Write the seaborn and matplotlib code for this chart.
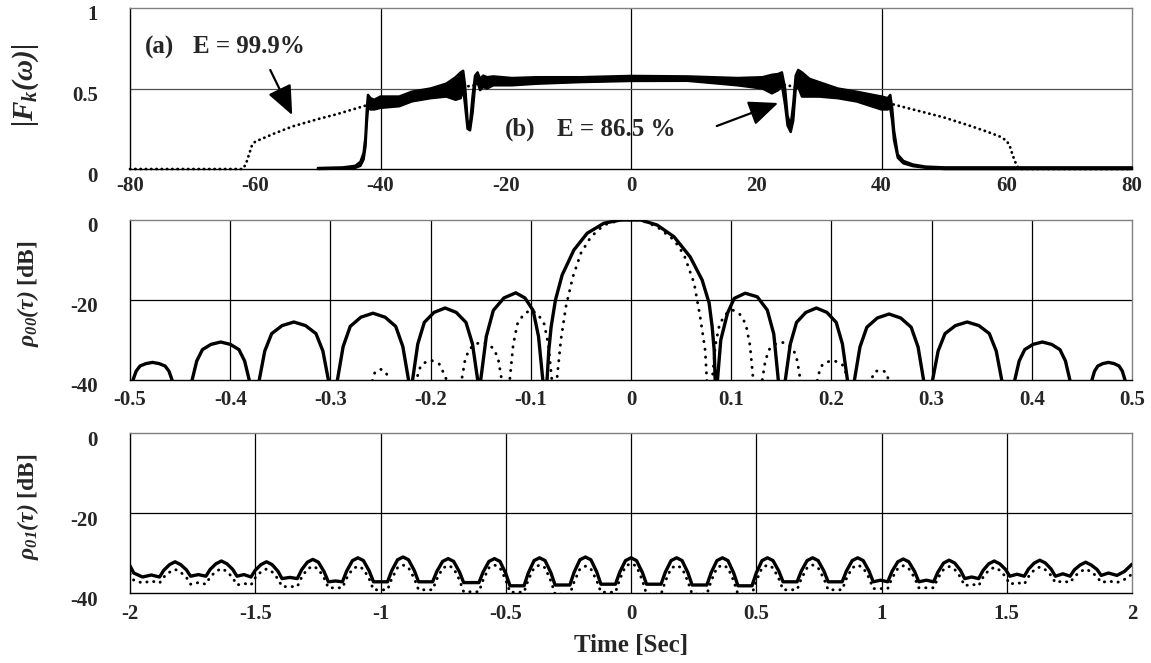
import matplotlib
matplotlib.use("Agg")
import numpy as np
import pandas as pd
import seaborn as sns
import matplotlib.pyplot as plt
from matplotlib.transforms import ScaledTranslation

# ---------------- Panel 1: |F_k(w)| ----------------
fk_xticks = [-80, -60, -40, -20, 0, 20, 40, 60, 80]
fk_xticklabels = ["-80", "-60", "-40", "-20", "0", "20", "40", "60", "80"]
fk_yticks = [0, 0.5, 1]
fk_yticklabels = ["0", "0.5", "1"]
fk_vgrid = [-40, 0, 40]
fk_hgrid = [0.5]

# (a) E = 99.9 %  (dotted)
fk_a_x = [-80, -62, -61.5, -61, -60.5, -60, -57, -54, -50, -47, -44, -41, -35, -30, -25,
          -20, -10, 0, 10, 20, 25, 30, 35, 41, 44, 47, 50, 54, 57, 59, 60, 60.5, 61, 61.5, 62, 80]
fk_a_y = [0, 0, 0.03, 0.09, 0.15, 0.17, 0.22, 0.265, 0.31, 0.34, 0.375, 0.41, 0.45, 0.49, 0.52,
          0.54, 0.555, 0.56, 0.555, 0.54, 0.52, 0.47, 0.44, 0.41, 0.38, 0.35, 0.32, 0.27, 0.23, 0.2,
          0.175, 0.14, 0.08, 0.03, 0, 0]

# (b) E = 86.5 %  (solid, oscillating band: lower / upper envelope)
fk_b_x = [-50.0, -46.0, -44.0, -43.2, -42.7, -42.4, -42.2, -42.0, -41.6, -41.0, -40.0, -37.0,
          -35.0, -32.0, -29.5, -28.0, -27.2, -26.8, -26.5, -26.1, -25.7, -25.3, -24.9, -24.5,
          -24.1, -23.6, -23.0, -22.0, -19.0, -15.0, -8.0, 0.0, 9.0, 17.0, 21.0, 22.5, 23.5,
          24.1, 24.6, 25.0, 25.5, 25.9, 26.3, 26.7, 27.3, 28.5, 30.0, 33.0, 36.0, 40.0, 41.0,
          41.4, 41.7, 42.0, 42.6, 43.5, 45.0, 47.0, 50.0, 80.0]
fk_b_lo = [0.000, 0.003, 0.008, 0.020, 0.060, 0.140, 0.280, 0.380, 0.370, 0.370, 0.380, 0.390,
           0.420, 0.440, 0.450, 0.430, 0.440, 0.500, 0.400, 0.250, 0.240, 0.350, 0.520, 0.540,
           0.490, 0.510, 0.500, 0.520, 0.520, 0.530, 0.540, 0.547, 0.548, 0.520, 0.500, 0.470,
           0.490, 0.520, 0.400, 0.270, 0.230, 0.300, 0.500, 0.510, 0.450, 0.450, 0.450, 0.440,
           0.420, 0.370, 0.370, 0.380, 0.300, 0.180, 0.070, 0.035, 0.018, 0.008, 0.000, 0.000]
fk_b_hi = [0.006, 0.010, 0.020, 0.045, 0.100, 0.200, 0.360, 0.460, 0.440, 0.430, 0.450, 0.450,
           0.480, 0.500, 0.530, 0.570, 0.600, 0.610, 0.520, 0.300, 0.280, 0.450, 0.580, 0.600,
           0.560, 0.580, 0.570, 0.575, 0.565, 0.570, 0.570, 0.578, 0.575, 0.565, 0.570, 0.585,
           0.590, 0.600, 0.500, 0.330, 0.270, 0.400, 0.580, 0.615, 0.600, 0.560, 0.540, 0.500,
           0.480, 0.450, 0.440, 0.460, 0.380, 0.240, 0.090, 0.050, 0.028, 0.015, 0.010, 0.010]

# ---------------- Panel 2: rho_00(tau) [dB] ----------------
r00_xticks = [-0.5, -0.4, -0.3, -0.2, -0.1, 0, 0.1, 0.2, 0.3, 0.4, 0.5]
r00_xticklabels = ["-0.5", "-0.4", "-0.3", "-0.2", "-0.1", "0", "0.1", "0.2", "0.3", "0.4", "0.5"]
db_yticks = [-40, -20, 0]
db_yticklabels = ["-40", "-20", "0"]
db_hgrid = [-20]

r00_solid_tau = [
    -0.5,
    -0.497, -0.4939, -0.4900, -0.4841, -0.4775, -0.4709, -0.4650, -0.4611, -0.458,
    -0.448,
    -0.438, -0.4334, -0.4277, -0.4192, -0.4095, -0.3998, -0.3913, -0.3856, -0.381,
    -0.376,
    -0.371, -0.3655, -0.3586, -0.3482, -0.3365, -0.3248, -0.3144, -0.3075, -0.302,
    -0.2975,
    -0.293, -0.2873, -0.2802, -0.2696, -0.2575, -0.2454, -0.2348, -0.2277, -0.222,
    -0.220,
    -0.218, -0.2128, -0.2063, -0.1966, -0.1855, -0.1744, -0.1647, -0.1582, -0.153,
    -0.1515,
    -0.150, -0.1444, -0.1374, -0.1269, -0.115, -0.1058, -0.0977, -0.0923, -0.088,
    -0.086,
    -0.0838, -0.082, -0.0797, -0.0754, -0.0687, -0.057, -0.0437, -0.027, -0.0104,
    0.0096, 0.026, 0.043, 0.059, 0.071, 0.078, 0.081, 0.083, 0.084,
    0.085,
    0.0863, 0.0896, 0.0963, 0.103, 0.114, 0.126, 0.136, 0.1425, 0.147,
    0.1505,
    0.154, 0.159, 0.1652, 0.1745, 0.185, 0.1955, 0.2048, 0.211, 0.216,
    0.2195,
    0.223, 0.2285, 0.2354, 0.2458, 0.2575, 0.2692, 0.2796, 0.2865, 0.292,
    0.2965,
    0.301, 0.3065, 0.3134, 0.3238, 0.3355, 0.3472, 0.3576, 0.3645, 0.370,
    0.3765,
    0.383, 0.3874, 0.3929, 0.4012, 0.4105, 0.4198, 0.4281, 0.4336, 0.438,
    0.449,
    0.460, 0.4626, 0.4659, 0.4709, 0.4765, 0.4821, 0.4871, 0.4904, 0.493,
    0.5]
r00_solid_db = [
    -46,
    -40, -37.8, -36.5, -35.9, -35.6, -35.9, -36.5, -37.8, -40,
    -60,
    -40, -35.25, -32.4, -31.1, -30.5, -31.1, -32.4, -35.25, -40,
    -60,
    -40, -32.75, -28.4, -26.4, -25.5, -26.4, -28.4, -32.75, -40,
    -60,
    -40, -31.65, -26.6, -24.3, -23.3, -24.3, -26.6, -31.65, -40,
    -60,
    -40, -31.0, -25.6, -23.1, -22.0, -23.1, -25.6, -31.0, -40,
    -60,
    -40, -29.1, -22.6, -19.5, -18.2, -19.5, -22.6, -29.1, -40,
    -60,
    -40, -32.5, -26.7, -20.0, -13.75, -7.5, -3.3, -0.8, 0.0,
    0.0, -1.25, -4.2, -9.2, -15.0, -20.8, -26.7, -32.5, -40,
    -60,
    -40, -30.0, -23.3, -19.6, -18.3, -19.2, -22.5, -28.5, -40,
    -60,
    -40, -31.0, -25.6, -23.1, -22.0, -23.1, -25.6, -31.0, -40,
    -60,
    -40, -31.75, -26.8, -24.5, -23.5, -24.5, -26.8, -31.75, -40,
    -60,
    -40, -32.75, -28.4, -26.4, -25.5, -26.4, -28.4, -32.75, -40,
    -60,
    -40, -35.25, -32.4, -31.1, -30.5, -31.1, -32.4, -35.25, -40,
    -60,
    -40, -37.8, -36.5, -35.9, -35.6, -35.9, -36.5, -37.8, -40,
    -50]

r00_dot_tau = [
    -0.5, -0.265,
    -0.258, -0.2555, -0.25, -0.2445, -0.242,
    -0.228,
    -0.214, -0.2116, -0.2086, -0.2, -0.1914, -0.1884, -0.184,
    -0.1765,
    -0.169, -0.1658, -0.1618, -0.1558, -0.149, -0.1422, -0.1362, -0.1322, -0.129,
    -0.125,
    -0.121, -0.1176, -0.1134, -0.1071, -0.100, -0.0929, -0.0866, -0.0824, -0.079,
    -0.0765,
    -0.074, -0.070, -0.065, -0.058, -0.050, -0.040, -0.027, -0.0104,
    0.0096, 0.026, 0.043, 0.053, 0.063, 0.069, 0.074, 0.0757,
    0.078,
    0.081, 0.0843, 0.0884, 0.0945, 0.1015, 0.1085, 0.1146, 0.1187, 0.122,
    0.1265,
    0.131, 0.134, 0.1378, 0.1435, 0.150, 0.1565, 0.1622, 0.166, 0.169,
    0.1775,
    0.186, 0.1884, 0.1914, 0.201, 0.2106, 0.2136, 0.216,
    0.228,
    0.240, 0.2425, 0.2485, 0.2545, 0.257,
    0.265, 0.5]
r00_dot_db = [
    -60, -60,
    -40, -38.0, -37.3, -38.0, -40,
    -60,
    -40, -37.5, -36.0, -35.0, -36.0, -37.5, -40,
    -60,
    -40, -35.25, -32.4, -31.1, -30.5, -31.1, -32.4, -35.25, -40,
    -60,
    -40, -31.25, -26.0, -23.55, -22.5, -23.55, -26.0, -31.25, -40,
    -60,
    -40, -30.0, -21.7, -14.2, -8.3, -4.2, -1.25, 0.0,
    0.0, -1.7, -5.0, -8.75, -15.8, -24.2, -32.5, -40,
    -60,
    -40, -31.25, -26.0, -23.55, -22.5, -23.55, -26.0, -31.25, -40,
    -60,
    -40, -35.25, -32.4, -31.1, -30.5, -31.1, -32.4, -35.25, -40,
    -60,
    -40, -37.5, -36.0, -35.0, -36.0, -37.5, -40,
    -60,
    -40, -38.0, -37.5, -38.0, -40,
    -60, -60]

# ---------------- Panel 3: rho_01(tau) [dB] ----------------
r01_xticks = [-2, -1.5, -1, -0.5, 0, 0.5, 1, 1.5, 2]
r01_xticklabels = ["-2", "-1.5", "-1", "-0.5", "0", "0.5", "1", "1.5", "2"]

r01_solid_tau = [
    -2.000, -1.985, -1.950, -1.915, -1.882,
    -1.865, -1.842, -1.820, -1.798, -1.775, -1.758, -1.727, -1.697,
    -1.680, -1.657, -1.635, -1.613, -1.590, -1.573, -1.545, -1.517,
    -1.500, -1.477, -1.455, -1.433, -1.410, -1.393, -1.362, -1.332,
    -1.315, -1.292, -1.270, -1.248, -1.225, -1.208, -1.180, -1.152,
    -1.135, -1.112, -1.090, -1.068, -1.045, -1.028, -1.000, -0.972,
    -0.955, -0.932, -0.910, -0.888, -0.865, -0.848, -0.820, -0.792,
    -0.775, -0.752, -0.730, -0.708, -0.685, -0.668, -0.637, -0.607,
    -0.590, -0.567, -0.545, -0.523, -0.500, -0.483, -0.455, -0.427,
    -0.410, -0.387, -0.365, -0.343, -0.320, -0.303, -0.273, -0.244,
    -0.227, -0.204, -0.182, -0.160, -0.137, -0.120, -0.091, -0.062,
    -0.045, -0.022, 0.000, 0.022, 0.045, 0.062, 0.091, 0.120,
    0.137, 0.160, 0.182, 0.204, 0.227, 0.244, 0.274, 0.303,
    0.320, 0.343, 0.365, 0.387, 0.410, 0.427, 0.455, 0.483,
    0.500, 0.523, 0.545, 0.567, 0.590, 0.607, 0.635, 0.663,
    0.680, 0.703, 0.725, 0.747, 0.770, 0.787, 0.815, 0.843,
    0.860, 0.883, 0.905, 0.927, 0.950, 0.967, 0.996, 1.025,
    1.042, 1.065, 1.087, 1.109, 1.132, 1.149, 1.179, 1.208,
    1.225, 1.248, 1.270, 1.292, 1.315, 1.332, 1.360, 1.388,
    1.405, 1.428, 1.450, 1.472, 1.495, 1.512, 1.541, 1.570,
    1.587, 1.610, 1.632, 1.654, 1.677, 1.694, 1.724, 1.753,
    1.770, 1.793, 1.815, 1.837, 1.860, 1.877, 1.906, 1.940,
    1.970, 2.000]
r01_solid_db = [
    -33.2, -35.0, -36.0, -35.5, -36.0,
    -34.3, -32.9, -32.2, -32.9, -34.2, -35.8, -35.4, -35.8,
    -34.1, -32.7, -32.0, -32.7, -34.1, -35.8, -35.4, -36.0,
    -34.3, -32.9, -32.2, -32.9, -34.5, -36.4, -36.1, -36.4,
    -34.2, -32.3, -31.6, -32.3, -34.7, -37.2, -37.0, -37.2,
    -34.5, -31.9, -31.2, -31.9, -34.5, -37.2, -37.2, -37.2,
    -34.4, -31.7, -31.0, -31.7, -34.4, -37.2, -37.2, -37.2,
    -34.6, -32.1, -31.4, -32.1, -34.7, -37.4, -37.4, -37.4,
    -34.7, -32.1, -31.4, -32.1, -35.1, -38.2, -38.2, -38.2,
    -35.0, -31.9, -31.2, -31.9, -34.9, -38.0, -38.0, -38.0,
    -34.8, -31.7, -31.0, -31.7, -34.7, -37.8, -37.8, -37.8,
    -34.8, -31.9, -31.2, -31.9, -34.8, -37.8, -37.8, -37.8,
    -34.8, -31.9, -31.2, -31.9, -34.9, -38.0, -38.0, -38.0,
    -34.9, -31.9, -31.2, -31.9, -35.0, -38.2, -38.2, -38.2,
    -35.0, -31.9, -31.2, -31.9, -34.5, -37.2, -37.2, -37.2,
    -34.5, -31.9, -31.2, -31.9, -34.5, -37.2, -37.2, -37.2,
    -34.5, -31.9, -31.2, -31.9, -34.5, -37.2, -36.8, -37.2,
    -34.6, -32.2, -31.5, -32.2, -34.6, -37.2, -36.8, -37.2,
    -34.8, -32.5, -31.8, -32.5, -34.3, -36.4, -36.0, -36.4,
    -34.4, -32.7, -32.0, -32.7, -34.1, -35.8, -35.3, -35.8,
    -34.0, -32.5, -31.8, -32.5, -34.0, -35.8, -35.2, -35.8,
    -34.2, -33.0, -32.3, -33.0, -34.1, -35.6, -35.0, -35.6,
    -34.6, -32.8]

r01_dot_tau = list(r01_solid_tau)
r01_dot_db = [
    -35.2, -36.8, -37.5, -37.0, -37.5,
    -36.0, -34.8, -34.1, -34.8, -36.1, -37.8, -37.4, -37.8,
    -36.0, -34.6, -33.9, -34.6, -36.2, -38.0, -37.6, -38.0,
    -36.2, -34.7, -34.0, -34.7, -36.4, -38.4, -38.4, -38.4,
    -36.1, -34.0, -33.3, -34.0, -36.3, -38.7, -38.7, -38.7,
    -36.3, -34.0, -33.3, -34.0, -36.5, -39.2, -39.2, -39.2,
    -36.4, -33.7, -33.0, -33.7, -36.4, -39.2, -39.2, -39.2,
    -36.5, -33.8, -33.1, -33.8, -36.7, -39.7, -39.7, -39.7,
    -36.7, -33.7, -33.0, -33.7, -36.7, -39.8, -39.8, -39.8,
    -36.7, -33.7, -33.0, -33.7, -37.0, -40.3, -40.3, -40.3,
    -37.2, -34.0, -33.3, -34.0, -36.9, -39.8, -39.8, -39.8,
    -36.6, -33.3, -32.6, -33.3, -36.8, -40.3, -40.3, -40.3,
    -37.1, -33.8, -33.1, -33.8, -37.1, -40.3, -40.3, -40.3,
    -37.0, -33.7, -33.0, -33.7, -37.0, -40.3, -40.3, -40.3,
    -37.0, -33.7, -33.0, -33.7, -36.4, -39.2, -39.2, -39.2,
    -36.4, -33.7, -33.0, -33.7, -36.4, -39.2, -39.2, -39.2,
    -36.4, -33.7, -33.0, -33.7, -36.2, -38.9, -38.9, -38.9,
    -36.3, -33.9, -33.2, -33.9, -36.2, -38.7, -38.7, -38.7,
    -36.3, -34.1, -33.4, -34.1, -36.0, -38.2, -37.8, -38.2,
    -36.1, -34.3, -33.6, -34.3, -35.9, -37.8, -37.4, -37.8,
    -35.9, -34.2, -33.5, -34.2, -35.6, -37.4, -37.0, -37.4,
    -35.9, -34.7, -34.0, -34.7, -35.9, -37.4, -37.0, -37.4,
    -36.6, -35.3]

# ---------------- style ----------------
sns.set_theme(style="white")
plt.rcParams["font.family"] = ["Liberation Serif", "DejaVu Serif"]
plt.rcParams["font.weight"] = "bold"
plt.rcParams["axes.unicode_minus"] = False
plt.rcParams["mathtext.fontset"] = "custom"
plt.rcParams["mathtext.rm"] = "Liberation Serif:italic:bold"
plt.rcParams["mathtext.it"] = "Liberation Serif:italic:bold"
plt.rcParams["mathtext.bf"] = "Liberation Serif:italic:bold"

fig = plt.figure(figsize=(11.51, 6.63), dpi=100)
L, W = 130 / 1151, 1002 / 1151
ax1 = fig.add_axes([L, (663 - 169) / 663, W, 161 / 663])
ax2 = fig.add_axes([L, (663 - 380) / 663, W, 160 / 663])
ax3 = fig.add_axes([L, (663 - 593) / 663, W, 160 / 663])

GRID_KW = dict(color="black", lw=0.9, zorder=0.5)
TICK_FS = 15


def style_axes(ax, xpad):
    for s in ["left", "bottom"]:
        ax.spines[s].set_color("black")
        ax.spines[s].set_linewidth(1.0)
    for s in ["top", "right"]:
        ax.spines[s].set_color("#808080")
        ax.spines[s].set_linewidth(1.0)
    ax.tick_params(axis="both", length=0, labelsize=TICK_FS)
    ax.tick_params(axis="x", pad=xpad)
    ax.tick_params(axis="y", pad=23)
    for lab in ax.get_xticklabels() + ax.get_yticklabels():
        lab.set_fontweight("bold")


def shift_ylabels(ax, dy_px):
    off = ScaledTranslation(0, -dy_px / 100.0, fig.dpi_scale_trans)
    for lab in ax.get_yticklabels():
        lab.set_transform(lab.get_transform() + off)


# ---- Panel 1 ----
sns.lineplot(x=fk_a_x, y=fk_a_y, ax=ax1, color="black", linewidth=2.0,
             linestyle=(0, (0.1, 1.8)), dash_capstyle="round",
             estimator=None, sort=False, clip_on=False, zorder=2)
ax1.fill_between(fk_b_x, fk_b_lo, fk_b_hi, color="black", lw=0, zorder=3, clip_on=False)
sns.lineplot(x=fk_b_x, y=fk_b_lo, ax=ax1, color="black", linewidth=1.8,
             estimator=None, sort=False, clip_on=False, zorder=3)
sns.lineplot(x=fk_b_x, y=fk_b_hi, ax=ax1, color="black", linewidth=1.8,
             estimator=None, sort=False, clip_on=False, zorder=3)
for gx in fk_vgrid:
    ax1.axvline(gx, **GRID_KW)
for gy in fk_hgrid:
    ax1.axhline(gy, color="#505050", lw=0.9, zorder=0.5)
ax1.set_xlim(-80, 80)
ax1.set_ylim(0, 1)
ax1.set_xticks(fk_xticks)
ax1.set_xticklabels(fk_xticklabels)
ax1.set_yticks(fk_yticks)
ax1.set_yticklabels(fk_yticklabels)
style_axes(ax1, 5)
ax1.set_ylabel(r"$|F_k(\omega)|$", fontsize=21)
ax1.yaxis.label.set_va("center")
ax1.yaxis.set_label_coords(-0.104, 0.52)

TXT = dict(fontsize=18, fontweight="bold", va="center", ha="left")
ax1.text(-77.6, 0.758, "(a)", **TXT)
ax1.text(-69.9, 0.758, "E = 99.9%", **TXT)
ax1.text(-20.1, 0.248, "(b)", **TXT)
ax1.text(-11.8, 0.248, "E = 86.5 %", **TXT)
ARW = dict(arrowstyle="-|>,head_length=0.75,head_width=0.32", mutation_scale=24,
           color="black", lw=1.6, shrinkA=0, shrinkB=0)
ax1.annotate("", xy=(-54.1, 0.335), xytext=(-57.6, 0.615), arrowprops=ARW, zorder=4)
ax1.annotate("", xy=(23.5, 0.41), xytext=(13.7, 0.267), arrowprops=ARW, zorder=4)

# ---- Panel 2 ----
sns.lineplot(x=r00_dot_tau, y=r00_dot_db, ax=ax2, color="black", linewidth=2.1,
             linestyle=(0, (0.1, 2.6)), dash_capstyle="round", estimator=None, sort=False, zorder=2)
sns.lineplot(x=r00_solid_tau, y=r00_solid_db, ax=ax2, color="black", linewidth=2.4,
             estimator=None, sort=False, zorder=3)
for gx in r00_xticks[1:-1]:
    ax2.axvline(gx, **GRID_KW)
for gy in db_hgrid:
    ax2.axhline(gy, **GRID_KW)
ax2.set_xlim(-0.5, 0.5)
ax2.set_ylim(-40, 0)
ax2.set_xticks(r00_xticks)
ax2.set_xticklabels(r00_xticklabels)
ax2.set_yticks(db_yticks)
ax2.set_yticklabels(db_yticklabels)
style_axes(ax2, 7)
ax2.set_ylabel(r"$\rho_{00}(\tau)$ [dB]", fontsize=17, fontweight="bold")
ax2.yaxis.label.set_va("center")
ax2.yaxis.set_label_coords(-0.102, 0.54)

# ---- Panel 3 ----
sns.lineplot(x=r01_dot_tau, y=r01_dot_db, ax=ax3, color="black", linewidth=2.1,
             linestyle=(0, (0.1, 2.3)), dash_capstyle="round", estimator=None, sort=False, zorder=2)
sns.lineplot(x=r01_solid_tau, y=r01_solid_db, ax=ax3, color="black", linewidth=2.4,
             estimator=None, sort=False, zorder=3)
for gx in r01_xticks[1:-1]:
    ax3.axvline(gx, **GRID_KW)
for gy in db_hgrid:
    ax3.axhline(gy, **GRID_KW)
ax3.set_xlim(-2, 2)
ax3.set_ylim(-40, 0)
ax3.set_xticks(r01_xticks)
ax3.set_xticklabels(r01_xticklabels)
ax3.set_yticks(db_yticks)
ax3.set_yticklabels(db_yticklabels)
style_axes(ax3, 8)
ax3.set_ylabel(r"$\rho_{01}(\tau)$ [dB]", fontsize=17, fontweight="bold")
ax3.yaxis.label.set_va("center")
ax3.yaxis.set_label_coords(-0.102, 0.54)
ax3.set_xlabel("Time [Sec]", fontsize=18, fontweight="bold")
ax3.xaxis.label.set_va("center")
ax3.xaxis.set_label_coords(0.5, -0.33)

for ax in (ax1, ax2, ax3):
    shift_ylabels(ax, 5)

fig.savefig("out.png", dpi=100)
